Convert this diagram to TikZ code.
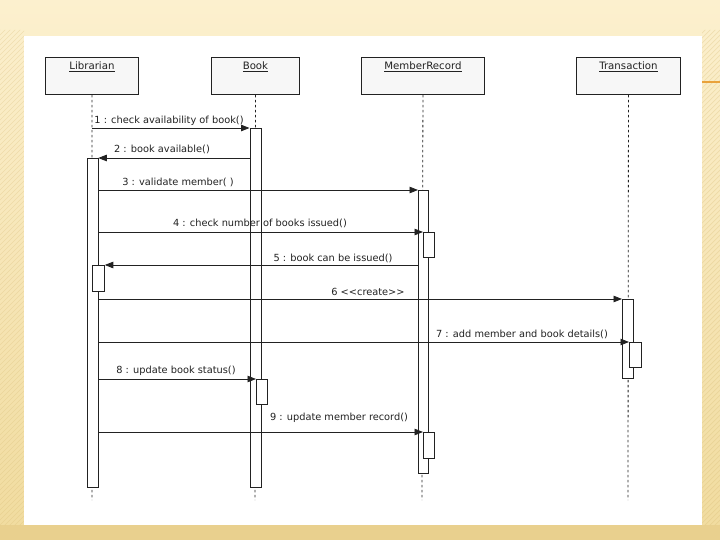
\documentclass[tikz,border=0pt]{standalone}
\usepackage{fontspec}
\setmainfont{DejaVu Sans}
\usetikzlibrary{arrows.meta,calc}
\definecolor{bgtop}{HTML}{FCF0CE}
\definecolor{bgbot}{HTML}{F1DCA0}
\definecolor{bgband}{HTML}{E9D08E}
\definecolor{stripe}{HTML}{D5B870}
\definecolor{ink}{HTML}{222222}
\definecolor{boxfill}{HTML}{F7F7F7}
\definecolor{accent}{HTML}{E9A23B}
\begin{document}
\begin{tikzpicture}[x=1pt,y=-1pt,
  objbox/.style={draw=ink, fill=boxfill, line width=0.9pt, minimum height=37pt, anchor=north west, inner sep=0pt},
  objlabel/.style={font=\fontsize{10.2}{11}\selectfont, text=ink, inner sep=0pt},
  actbar/.style={draw=ink, fill=white, line width=0.8pt, anchor=north west, inner sep=0pt, minimum width=11pt},
  lifeline/.style={draw=ink, line width=0.8pt, dash pattern=on 2.5pt off 2.5pt},
  msg/.style={draw=ink, line width=0.85pt, -{Triangle[length=8.5pt,width=6.5pt]}},
  msglabel/.style={font=\fontsize{9.8}{11}\selectfont, text=ink, inner sep=0pt, anchor=base}
]
% slide background
\useasboundingbox (0,0) rectangle (720,540);
\shade[top color=bgtop, bottom color=bgbot] (0,0) rectangle (720,525);
\fill[bgband] (0,525) rectangle (720,540);
\begin{scope}
  \clip (0,30) rectangle (24,525) (702,30) rectangle (720,525);
  \foreach \i in {-560,-555,...,720} {
    \draw[stripe, opacity=0.3, line width=0.7pt] (\i,540) -- ++(540,-540);
  }
\end{scope}
\fill[white] (24,36) rectangle (702,525);
\draw[accent, line width=1.6pt] (702,82) -- (720,82);

% object boxes
\node[objbox, minimum width=93pt,
  label={[objlabel, anchor=north, yshift=-5pt]north:\underline{Librarian}}] (lib) at (45,57) {};
\node[objbox, minimum width=88pt,
  label={[objlabel, anchor=north, yshift=-5pt]north:\underline{Book}}] (book) at (211,57) {};
\node[objbox, minimum width=123pt,
  label={[objlabel, anchor=north, yshift=-5pt]north:\underline{MemberRecord}}] (mem) at (361,57) {};
\node[objbox, minimum width=104pt,
  label={[objlabel, anchor=north, yshift=-5pt]north:\underline{Transaction}}] (tr) at (576,57) {};

% lifeline ends
\coordinate (libEnd) at (92,500);
\coordinate (bookEnd) at (255,500);
\coordinate (memEnd) at (422,500);
\coordinate (trEnd) at (628,500);
\draw[lifeline] (lib.south) -- (libEnd);
\draw[lifeline] (book.south) -- (bookEnd);
\draw[lifeline] (mem.south) -- (memEnd);
\draw[lifeline] (tr.south) -- (trEnd);

% activation bars
\node[actbar, minimum height=329pt] (libA) at (86.5,158) {};
\node[actbar, minimum height=26pt, minimum width=12pt] (libB) at (92,265) {};
\node[actbar, minimum height=359pt] (bookA) at (249.5,128) {};
\node[actbar, minimum height=25pt] (bookB) at (256,379) {};
\node[actbar, minimum height=283pt, minimum width=10pt] (memA) at (418,190) {};
\node[actbar, minimum height=25pt] (memB) at (423,232) {};
\node[actbar, minimum height=26pt] (memC) at (423,432) {};
\node[actbar, minimum height=79pt, line width=1.4pt] (trA) at (622,299) {};
\node[actbar, minimum height=25pt, minimum width=12pt] (trB) at (629,342) {};

% messages
\draw[msg] (lib.south |- bookA.north) -- (bookA.north west);
\draw[msg] (bookA.west |- libA.north) -- (libA.north east);
\draw[msg] (libA.east |- memA.north) -- (memA.north west);
\draw[msg] (libA.east |- memB.north) -- (memB.north west);
\draw[msg] (memA.west |- libB.north) -- (libB.north east);
\draw[msg] (libA.east |- trA.north) -- (trA.north west);
\draw[msg] (libA.east |- trB.north) -- (trB.north west);
\draw[msg] (libA.east |- bookB.north) -- (bookB.north west);
\draw[msg] (libA.east |- memC.north) -- (memC.north west);

% message labels
\node[msglabel] (l1) at (169,124) {1 : check availability of book()};
\node[msglabel] (l2) at (162,153) {2 : book available()};
\node[msglabel] (l3) at (178,186) {3 : validate member( )};
\node[msglabel] (l4) at (260,226) {4 : check number of books issued()};
\node[msglabel] (l5) at (333,261) {5 : book can be issued()};
\node[msglabel] (l6) at (368,295) {6 <{}<create>{}>};
\node[msglabel] (l7) at (522,337) {7 : add member and book details()};
\node[msglabel] (l8) at (176,373) {8 : update book status()};
\node[msglabel] (l9) at (339,420) {9 : update member record()};
\end{tikzpicture}
\end{document}
